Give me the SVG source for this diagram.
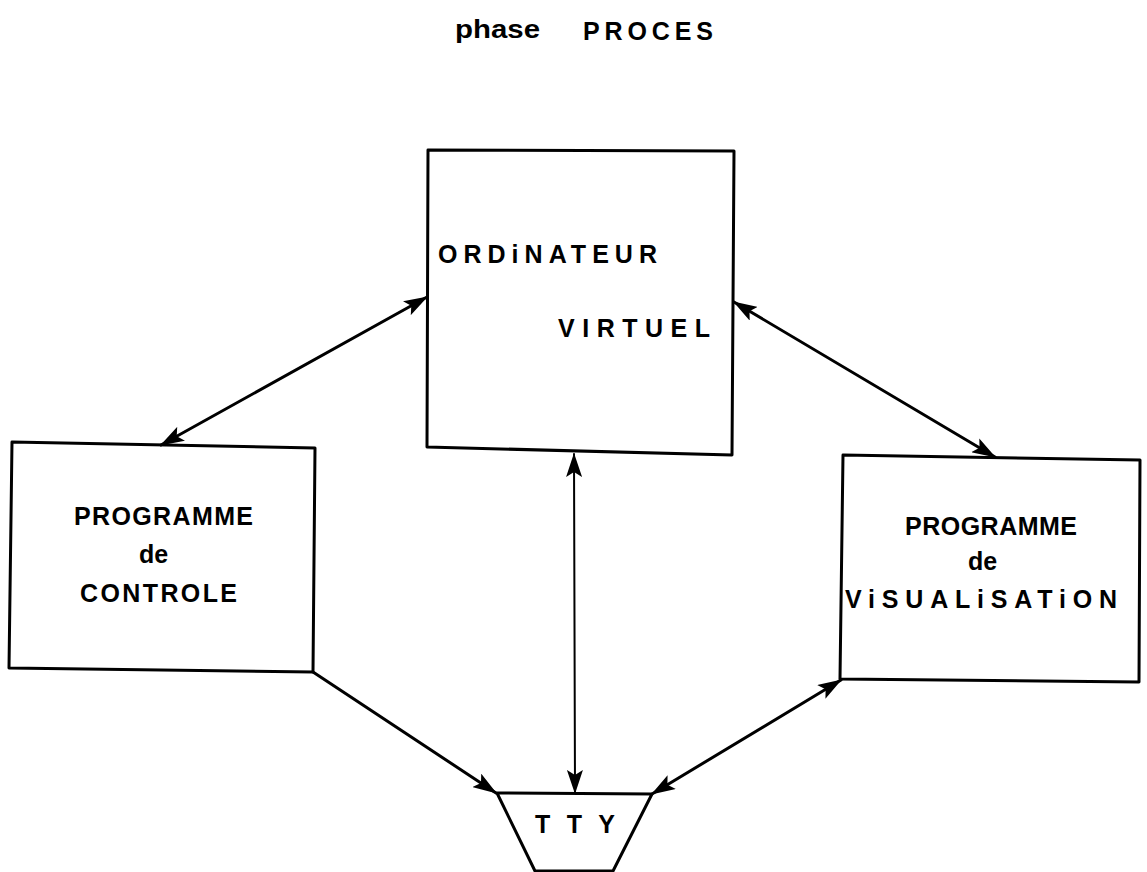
<svg xmlns="http://www.w3.org/2000/svg" width="1147" height="872" viewBox="0 0 1147 872">
<style>
.bg{fill:#fff}
.box{fill:none;stroke:#000;stroke-width:3;stroke-linejoin:round}
.lbl{font-family:"Liberation Sans",Arial,sans-serif;font-size:25px;font-weight:bold;fill:#000}
.conn{fill:none;stroke:#000;stroke-width:3;stroke-linecap:round}
.thin{stroke-width:2}
</style>
<defs>
<marker id="ah" viewBox="0 0 24 16" refX="23" refY="8" markerWidth="24" markerHeight="16" markerUnits="userSpaceOnUse" orient="auto-start-reverse">
<path d="M0,0 L24,8 L0,16 L5,8 z" fill="#000"/>
</marker>
</defs>
<rect class="bg" x="0" y="0" width="1147" height="872"/>
<g id="title">
<text class="lbl" x="455" y="38" font-size="32" textLength="85" lengthAdjust="spacingAndGlyphs">phase</text>
<text class="lbl" x="583" y="40" font-size="28" textLength="130" lengthAdjust="spacing">PROCES</text>
</g>
<g id="connectors">
<line class="conn" x1="427" y1="297" x2="161" y2="445" marker-start="url(#ah)" marker-end="url(#ah)"/>
<line class="conn" x1="734" y1="302" x2="995" y2="457" marker-start="url(#ah)" marker-end="url(#ah)"/>
<line class="conn thin" x1="574" y1="454" x2="575" y2="793" marker-start="url(#ah)" marker-end="url(#ah)"/>
<line class="conn" x1="313" y1="672" x2="496" y2="793" marker-end="url(#ah)"/>
<line class="conn" x1="841" y1="680" x2="652" y2="794" marker-start="url(#ah)" marker-end="url(#ah)"/>
</g>
<g id="ordinateur">
<path class="box" d="M428,150 L734,151 L732,455 L427,447 Z"/>
<text class="lbl" x="438" y="263" font-size="23" textLength="219" lengthAdjust="spacing">ORDiNATEUR</text>
<text class="lbl" x="558" y="337" font-size="23" textLength="152" lengthAdjust="spacing">VIRTUEL</text>
</g>
<g id="controle">
<path class="box" d="M12,442 L315,448 L313,672 L9,668 Z"/>
<text class="lbl" x="74" y="525" font-size="29" textLength="179" lengthAdjust="spacing">PROGRAMME</text>
<text class="lbl" x="139" y="563" font-size="29">de</text>
<text class="lbl" x="80" y="602" font-size="28" textLength="157" lengthAdjust="spacing">CONTROLE</text>
</g>
<g id="visualisation">
<path class="box" d="M843,455 L1140,460 L1139,682 L840,679 Z"/>
<text class="lbl" x="905" y="535" font-size="26" textLength="172" lengthAdjust="spacing">PROGRAMME</text>
<text class="lbl" x="968" y="570" font-size="27">de</text>
<text class="lbl" x="845" y="608" font-size="26" textLength="272" lengthAdjust="spacing">ViSUALiSATiON</text>
</g>
<g id="tty">
<path class="box" d="M497,793 L652,794 L613,871 L535,871 Z"/>
<text class="lbl" x="535" y="833" font-size="26" textLength="80" lengthAdjust="spacing">TTY</text>
</g>
</svg>
